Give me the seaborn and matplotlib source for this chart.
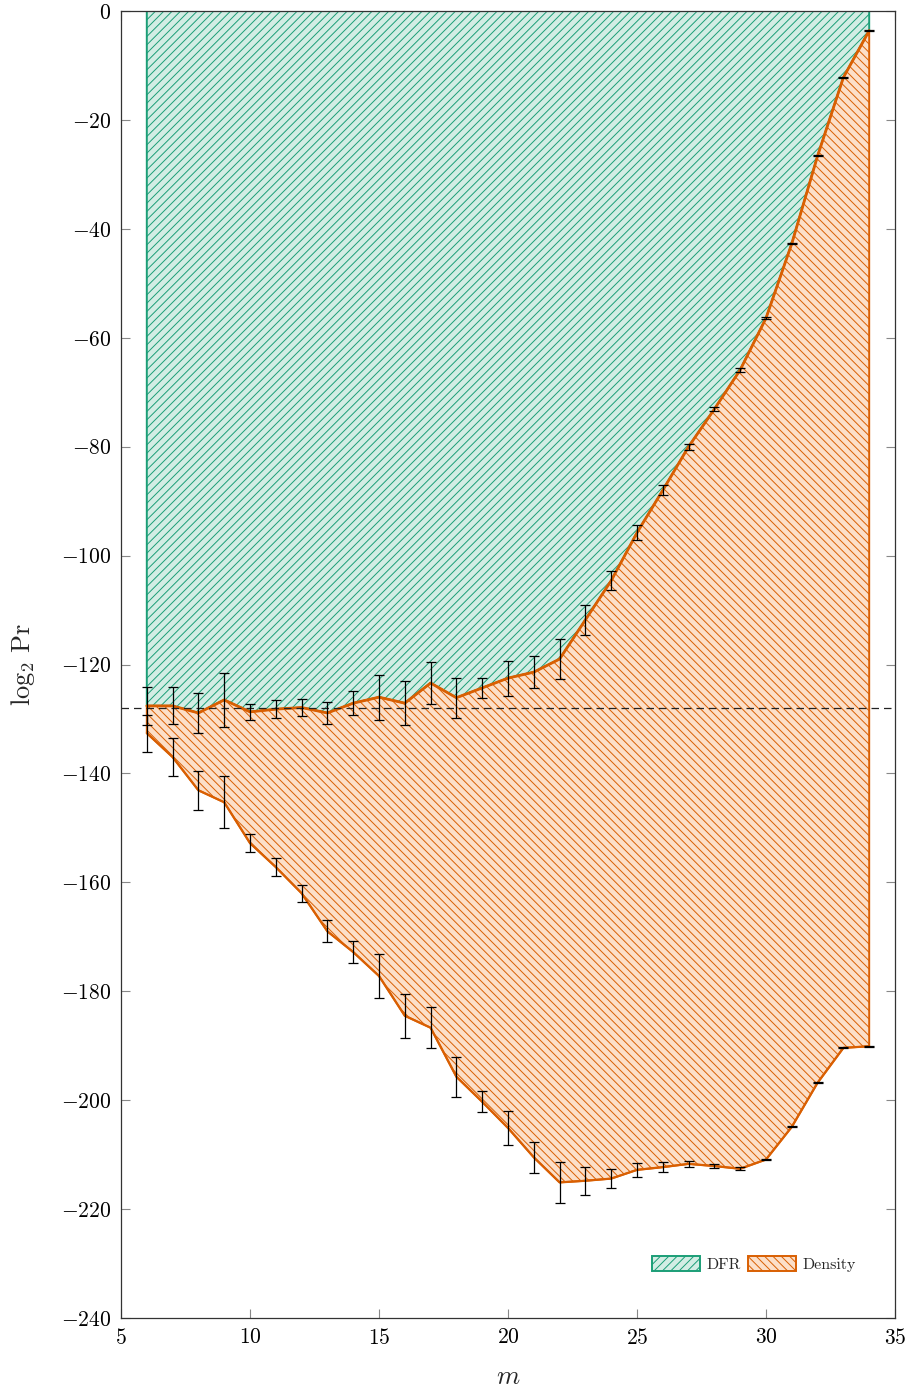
import numpy as np
import pandas as pd
import matplotlib
matplotlib.use("Agg")
import matplotlib.pyplot as plt
import seaborn as sns
from matplotlib.patches import Patch
from matplotlib.ticker import FuncFormatter, MultipleLocator

# ---- data ----
m = [6, 7, 8, 9, 10, 11, 12, 13, 14, 15, 16, 17, 18, 19, 20,
     21, 22, 23, 24, 25, 26, 27, 28, 29, 30, 31, 32, 33, 34]
dfr_bound = [-127.6, -127.6, -128.9, -126.5, -128.7, -128.2, -127.9, -128.9, -127.1, -126.0,
             -127.1, -123.4, -126.1, -124.3, -122.5, -121.4, -119.0, -111.8, -104.6, -95.8,
             -88.0, -80.0, -73.1, -65.9, -56.4, -42.7, -26.6, -12.2, -3.6]
dfr_err = [3.5, 3.4, 3.6, 4.9, 1.5, 1.6, 1.5, 2.0, 2.2, 4.1, 4.0, 3.8, 3.7, 1.9, 3.2,
           2.9, 3.6, 2.8, 1.7, 1.35, 0.9, 0.55, 0.3, 0.3, 0.2, 0.1, 0.1, 0.1, 0.1]
dens_bound = [-132.6, -137.0, -143.1, -145.3, -152.8, -157.2, -162.0, -169.0, -172.8, -177.2,
              -184.5, -186.7, -195.7, -200.3, -205.1, -210.5, -215.1, -214.8, -214.4, -212.8,
              -212.3, -211.7, -212.1, -212.6, -210.9, -204.9, -196.8, -190.4, -190.1]
dens_err = [3.4, 3.5, 3.6, 4.8, 1.6, 1.6, 1.6, 2.0, 2.1, 4.1, 4.0, 3.8, 3.7, 1.9, 3.2,
            2.9, 3.7, 2.6, 1.7, 1.35, 0.9, 0.55, 0.35, 0.25, 0.15, 0.1, 0.1, 0.1, 0.1]
threshold = -128
labels = ["DFR", "Density"]

df = pd.DataFrame({"m": m, "dfr": dfr_bound, "dens": dens_bound})

sns.set_theme(style="ticks")
plt.rcParams["font.family"] = ["cmr10", "DejaVu Serif"]
plt.rcParams["mathtext.fontset"] = "cm"
plt.rcParams["axes.formatter.use_mathtext"] = True
plt.rcParams["hatch.linewidth"] = 0.7

green = "#1b9e77"
orange = "#d95f02"
green_face = "#d3ede4"
orange_face = "#fcdfc8"

fig = plt.figure(figsize=(9.13, 13.92), dpi=100)
ax = fig.add_axes([121 / 913, 1 - 1318 / 1392, (895 - 121) / 913, (1318 - 11) / 1392])

mx = np.array(df["m"])
ax.fill_between(mx, 0, df["dfr"], facecolor=green_face, edgecolor=green,
                hatch="////", linewidth=1.4, zorder=1)
ax.fill_between(mx, df["dens"], df["dfr"], facecolor=orange_face, edgecolor=orange,
                hatch="\\\\\\\\", linewidth=1.4, zorder=2)

sns.lineplot(data=df, x="m", y="dfr", color=orange, linewidth=2.0, ax=ax, zorder=3)
sns.lineplot(data=df, x="m", y="dens", color=orange, linewidth=1.6, ax=ax, zorder=3)

ax.axhline(threshold, color="#222222", linestyle=(0, (6, 4)), linewidth=0.9, zorder=4)

for y, e in [(dfr_bound, dfr_err), (dens_bound, dens_err)]:
    ax.errorbar(m, y, yerr=e, fmt="none", ecolor="black", elinewidth=0.9,
                capsize=3.6, capthick=0.9, zorder=5)

ax.set_xlim(5, 35)
ax.set_ylim(-240, 0)
ax.xaxis.set_major_locator(MultipleLocator(5))
ax.yaxis.set_major_locator(MultipleLocator(20))
fmt = FuncFormatter(lambda v, p: "$%d$" % int(round(v)) if v >= 0 else "$-%d$" % int(round(-v)))
ax.xaxis.set_major_formatter(fmt)
ax.yaxis.set_major_formatter(fmt)
ax.tick_params(direction="in", length=6.5, width=0.8, color="#888888",
               top=True, right=True, labelsize=15.5, labelcolor="black", pad=7)
for s in ax.spines.values():
    s.set_color("#333333")
    s.set_linewidth(0.9)
    s.set_visible(True)
    s.set_zorder(6)

ax.set_xlabel(r"$m$", fontsize=19)
ax.set_ylabel(r"$\log_2\,\mathrm{Pr}$", fontsize=19)
ax.xaxis.set_label_coords(0.5, -0.0451)
ax.yaxis.set_label_coords(-0.1266, 0.5)
ax.xaxis.label.set_va("center")
ax.yaxis.label.set_va("center")

handles = [Patch(facecolor=green_face, edgecolor=green, hatch="////", linewidth=1.4),
           Patch(facecolor=orange_face, edgecolor=orange, hatch="\\\\\\\\", linewidth=1.4)]
ax.legend(handles, labels, loc="center", bbox_to_anchor=(0.818, 0.0413), ncol=2,
          frameon=False, fontsize=11.5, handlelength=3.0, handleheight=1.05,
          columnspacing=0.45, handletextpad=0.4)

fig.savefig("out.png", dpi=100)
